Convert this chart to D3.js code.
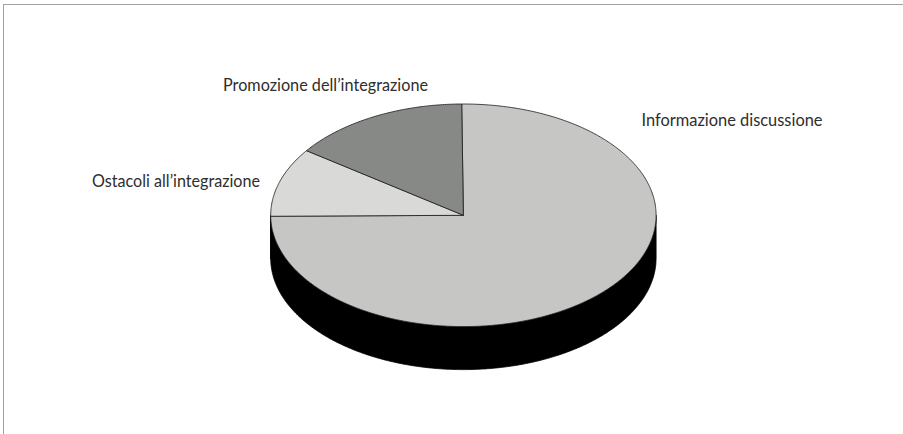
<!DOCTYPE html>
<html>
<head>
<meta charset="utf-8">
<script src="https://cdn.jsdelivr.net/npm/d3@7"></script>
<style>
html, body { margin: 0; padding: 0; background: #fff; }
svg { display: block; }
</style>
</head>
<body>
<svg id="chart" width="903" height="434"></svg>
<script>
// Data
const categories = ["Informazione discussione", "Ostacoli all\u2019integrazione", "Promozione dell\u2019integrazione"];
const values = [75, 10, 15];
const colors = ["#c6c7c5", "#d9dad8", "#878987"];

// Label layout (anchor start x, baseline y, rendered width)
const labelX = [641.5, 92, 223];
const labelY = [125.5, 187, 90.5];
const labelW = [181, 168, 205];

const W = 903, H = 434;
const cx = 463.4, cy = 215.3, rx = 192.7, ry = 111.3, depth = 43;
const rot = -0.0087;

const svg = d3.select("#chart");

// frame
svg.append("rect")
  .attr("x", 3.5).attr("y", 4.5)
  .attr("width", W + 10).attr("height", H + 10)
  .attr("fill", "none").attr("stroke", "#a0a0a0").attr("stroke-width", 1);

const pie = d3.pie().sort(null).value(d => d.v)
  .startAngle(rot).endAngle(2 * Math.PI + rot);
const data = categories.map((c, i) => ({ c, v: values[i], col: colors[i] }));
const arcs = pie(data);

const px = (a, dy = 0) => [cx + rx * Math.sin(a), cy - ry * Math.cos(a) + dy];

function arcPts(a0, a1, dy) {
  const n = Math.max(2, Math.ceil(Math.abs(a1 - a0) / 0.01));
  const pts = [];
  for (let k = 0; k <= n; k++) pts.push(px(a0 + (a1 - a0) * k / n, dy));
  return pts;
}

// side walls (front half only: angles between PI/2 and 3PI/2)
const sideG = svg.append("g");
arcs.forEach(s => {
  const a0 = Math.max(s.startAngle, Math.PI / 2);
  const a1 = Math.min(s.endAngle, 3 * Math.PI / 2);
  if (a1 <= a0) return;
  const top = arcPts(a0, a1, 0);
  const bot = arcPts(a1, a0, depth);
  sideG.append("path")
    .attr("d", d3.line()(top.concat(bot)) + "Z")
    .attr("fill", "#000")
    .attr("stroke", "#000").attr("stroke-width", 0.8);
});

// top faces
const topG = svg.append("g");
arcs.forEach(s => {
  const pts = [[cx, cy]].concat(arcPts(s.startAngle, s.endAngle, 0));
  topG.append("path")
    .attr("d", d3.line()(pts) + "Z")
    .attr("fill", s.data.col)
    .attr("stroke", "#1a1a1a").attr("stroke-width", 0.8)
    .attr("stroke-linejoin", "round");
});

// labels
svg.append("g").selectAll("text").data(categories).join("text")
  .attr("x", (d, i) => labelX[i])
  .attr("y", (d, i) => labelY[i])
  .attr("textLength", (d, i) => labelW[i])
  .attr("lengthAdjust", "spacingAndGlyphs")
  .attr("font-family", "Lato, 'Open Sans', sans-serif")
  .attr("font-size", 17.5)
  .attr("fill", "#2e2e2e")
  .text(d => d);
</script>
</body>
</html>
